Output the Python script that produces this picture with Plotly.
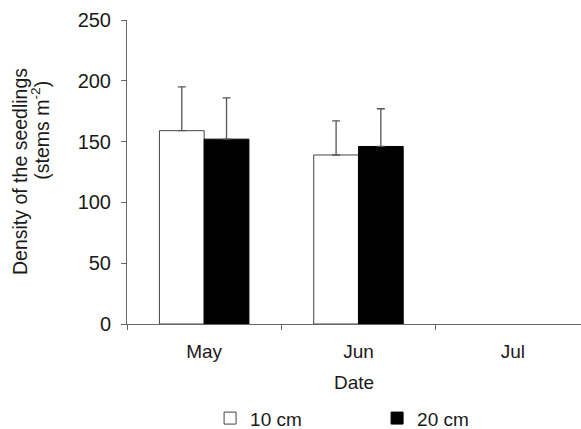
import plotly.graph_objects as go

# Seedling density by sampling month and burial depth
months = ["May", "Jun", "Jul"]
depth_10cm = [159, 139, None]
depth_20cm = [152, 146, None]
err_10cm = [36, 28, None]
err_20cm = [34, 31, None]
y_ticks = [0, 50, 100, 150, 200, 250]
y_title_lines = ["Density of the seedlings", "(stems m<sup>-2</sup>)"]

FONT = "Liberation Sans, Arial, sans-serif"
INK = "#1a1a1a"
LINE = "#666666"

fig = go.Figure()
fig.add_trace(go.Bar(
    x=months, y=depth_10cm, name="10 cm",
    marker=dict(color="white", line=dict(color="#444444", width=1)),
    error_y=dict(type="data", array=err_10cm, symmetric=False, arrayminus=[0, 0, 0],
                 color="#555555", thickness=1.3, width=4),
))
fig.add_trace(go.Bar(
    x=months, y=depth_20cm, name="20 cm",
    marker=dict(color="black", line=dict(color="black", width=1)),
    error_y=dict(type="data", array=err_20cm, symmetric=False, arrayminus=[0, 0, 0],
                 color="#555555", thickness=1.3, width=4),
))

# Two-line y-axis title, drawn as rotated text with tight line spacing
plot_w = 581 - 127
for line_text, px, py in zip(y_title_lines, [20, 40], [0.5, 0.636]):
    fig.add_annotation(
        text=line_text, textangle=-90, showarrow=False,
        xref="paper", yref="paper", x=(px - 127) / plot_w, y=py,
        xanchor="center", yanchor="middle",
        font=dict(family=FONT, size=19.5, color=INK),
    )

fig.update_layout(
    width=581, height=429,
    margin=dict(l=127, r=0, t=20, b=105, autoexpand=False),
    paper_bgcolor="white", plot_bgcolor="white",
    font=dict(family=FONT, size=18, color=INK),
    barmode="group", bargap=0.42, bargroupgap=0,
    showlegend=True,
    legend=dict(orientation="h", x=0.183, xanchor="left", y=-0.31, yanchor="middle",
                font=dict(size=19), entrywidth=122, itemwidth=30,
                bgcolor="rgba(0,0,0,0)"),
    xaxis=dict(
        range=[-0.5, 2.442], showline=True, linecolor=LINE, linewidth=1,
        ticks="outside", tickson="boundaries", ticklen=5, tickcolor=LINE,
        showgrid=False, zeroline=False, ticklabelstandoff=10,
        title=dict(text="Date", standoff=14, font=dict(size=19)), tickfont=dict(size=19),
    ),
    yaxis=dict(
        range=[0, 250], tickvals=y_ticks, showline=True, linecolor=LINE, linewidth=1,
        ticks="outside", ticklen=5, tickcolor=LINE, showgrid=False, zeroline=False,
        ticklabelstandoff=6, tickfont=dict(size=20),
    ),
)

fig.write_html("out.html")
